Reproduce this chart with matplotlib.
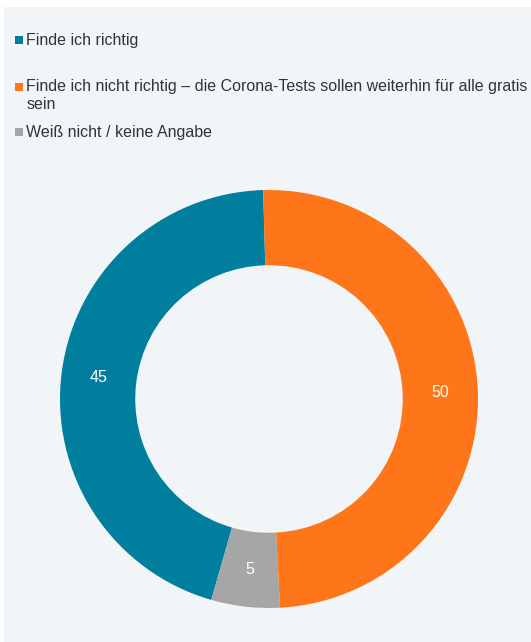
import matplotlib
matplotlib.use("Agg")
import matplotlib.pyplot as plt
from matplotlib.patches import Rectangle

plt.rcParams['font.family'] = ['Liberation Sans', 'DejaVu Sans']

# data
labels = ["Finde ich richtig",
          "Finde ich nicht richtig \u2013 die Corona-Tests sollen weiterhin f\u00fcr alle gratis\nsein",
          "Wei\u00df nicht / keine Angabe"]
values = [45.1, 49.6, 5.3]
shown = ["45", "50", "5"]
colors = ["#007e9e", "#ff761a", "#a6a6a6"]

W, H = 531, 642
fig = plt.figure(figsize=(W / 100, H / 100), dpi=100, facecolor="white")

# light panel behind everything
fig.add_artist(Rectangle((4 / W, 0), 1 - 4 / W, 1 - 7 / H, transform=fig.transFigure,
                         facecolor="#f2f5f8", edgecolor="none", zorder=0))

# donut: center (269, 399) px, outer radius 209 px
cx, cy, R = 269, 399, 209
ax = fig.add_axes([(cx - R) / W, (H - cy - R) / H, 2 * R / W, 2 * R / H])
ax.set_facecolor("none")
# drawing order counter-clockwise from top: teal, grey, orange
order = [0, 2, 1]
wedges, texts = ax.pie([values[i] for i in order], colors=[colors[i] for i in order],
                       startangle=91.6, counterclock=True, radius=1,
                       wedgeprops=dict(width=0.36, edgecolor="none"),
                       labels=[shown[i] for i in order], labeldistance=0.82,
                       textprops=dict(color="white", fontsize=11.5, ha="center", va="center"))
ax.set_xlim(-1, 1)
ax.set_ylim(-1, 1)
ax.axis("off")

# legend, drawn by hand to keep the uneven spacing
ys = [40, 95.5, 132]
box_ys = [40, 87, 132]
for lab, col, y, by in zip(labels, colors, ys, box_ys):
    fig.add_artist(Rectangle((15 / W, 1 - (by + 4) / H), 8 / W, 8 / H,
                             transform=fig.transFigure, facecolor=col, edgecolor="none"))
    fig.text(26.5 / W, 1 - y / H, lab, fontsize=11.5, color="#333333",
             ha="left", va="center", linespacing=1.28)

fig.savefig("out.png", dpi=100, facecolor="white")
